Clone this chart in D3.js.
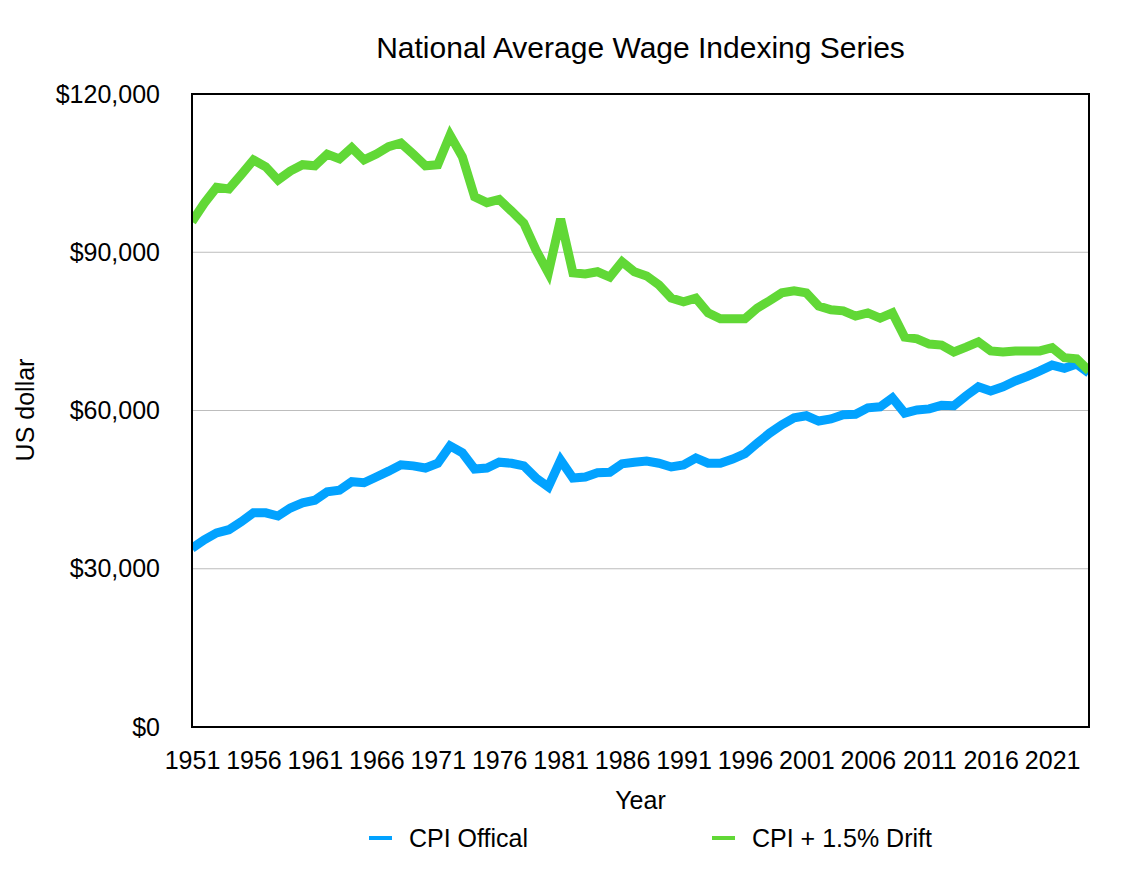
<!DOCTYPE html>
<html>
<head>
<meta charset="utf-8">
<script src="https://cdn.jsdelivr.net/npm/d3@7"></script>
<style>
  body { margin: 0; background: #fff; }
  text { font-family: "Liberation Sans", Arial, Helvetica, sans-serif; fill: #000; }
</style>
</head>
<body>
<svg id="chart" width="1130" height="888"></svg>
<script>
const years = d3.range(1951, 2025);

const cpiOfficial = [
  33900, 35500, 36800, 37400, 38900, 40600, 40600, 40000, 41500, 42500,
  43000, 44600, 44900, 46500, 46300, 47400, 48500, 49700, 49500, 49100,
  50000, 53300, 52000, 48900, 49100, 50200, 50000, 49500, 47200, 45500,
  50600, 47200, 47400, 48200, 48300, 49900, 50200, 50400, 50000, 49300,
  49700, 51000, 50000, 50000, 50800, 51800, 53800, 55700, 57300, 58600,
  59000, 58000, 58400, 59200, 59300, 60500, 60700, 62400, 59500, 60100,
  60300, 61000, 60900, 62800, 64500, 63700, 64500, 65600, 66500, 67500,
  68600, 68000, 68800, 67100
];

const cpiDrift = [
  95800, 99300, 102300, 102000, 104700, 107500, 106200, 103700, 105400, 106600,
  106400, 108600, 107700, 109800, 107500, 108600, 110000, 110700, 108600, 106400,
  106600, 112200, 108100, 100500, 99400, 100000, 97800, 95500, 90400, 86100,
  96300, 86100, 85900, 86300, 85300, 88200, 86300, 85500, 83800, 81300,
  80600, 81300, 78500, 77400, 77400, 77400, 79400, 80800, 82300, 82700,
  82300, 79800, 79100, 78900, 77900, 78500, 77500, 78500, 73900, 73600,
  72600, 72400, 71100, 72000, 73000, 71300, 71100, 71300, 71300, 71300,
  71900, 70000, 69800, 67500
];

const yTicks = [0, 30000, 60000, 90000, 120000];
const xTicks = d3.range(1951, 2025, 5);

const seriesNames = ["CPI Offical", "CPI + 1.5% Drift"];
const seriesColors = ["#02a2ff", "#61d836"];

const svg = d3.select("#chart");
const margin = { top: 94, right: 41, bottom: 161, left: 192 };
const width = 1130, height = 888;
const innerRight = width - margin.right;
const innerBottom = height - margin.bottom;

const x = d3.scaleLinear().domain([1951, 2024]).range([margin.left, innerRight]);
const y = d3.scaleLinear().domain([0, 120000]).range([innerBottom, margin.top]);

// gridlines
svg.append("g")
  .selectAll("line")
  .data(yTicks.slice(1, -1))
  .join("line")
  .attr("x1", margin.left)
  .attr("x2", innerRight)
  .attr("y1", d => y(d))
  .attr("y2", d => y(d))
  .attr("stroke", "#bdbdbd")
  .attr("stroke-width", 1);

svg.append("clipPath").attr("id", "plot-clip")
  .append("rect")
  .attr("x", margin.left)
  .attr("y", margin.top - 10)
  .attr("width", innerRight - margin.left)
  .attr("height", innerBottom - margin.top + 10);

const line = d3.line()
  .x((d, i) => x(years[i]))
  .y(d => y(d));

svg.append("g")
  .attr("clip-path", "url(#plot-clip)")
  .selectAll("path")
  .data([cpiOfficial, cpiDrift])
  .join("path")
  .attr("d", d => line(d))
  .attr("fill", "none")
  .attr("stroke", (d, i) => seriesColors[i])
  .attr("stroke-width", 9)
  .attr("stroke-linejoin", "miter");

// frame
svg.append("rect")
  .attr("x", margin.left)
  .attr("y", margin.top)
  .attr("width", innerRight - margin.left)
  .attr("height", innerBottom - margin.top)
  .attr("fill", "none")
  .attr("stroke", "#000")
  .attr("stroke-width", 2);

// y axis
const fmt = d3.format("$,");
svg.append("g")
  .attr("transform", `translate(${margin.left},0)`)
  .call(d3.axisLeft(y).tickValues(yTicks).tickSize(0).tickPadding(32).tickFormat(fmt))
  .call(g => g.select(".domain").remove())
  .call(g => g.selectAll("text").attr("font-size", 25).attr("fill", "#000"));

// x axis
svg.append("g")
  .attr("transform", `translate(0,${innerBottom})`)
  .call(d3.axisBottom(x).tickValues(xTicks).tickSize(0).tickPadding(24).tickFormat(d3.format("d")))
  .call(g => g.select(".domain").remove())
  .call(g => g.selectAll("text").attr("font-size", 25).attr("fill", "#000"));

// title
svg.append("text")
  .attr("x", (margin.left + innerRight) / 2)
  .attr("y", 58)
  .attr("text-anchor", "middle")
  .attr("font-size", 30)
  .text("National Average Wage Indexing Series");

// axis labels
svg.append("text")
  .attr("x", (margin.left + innerRight) / 2)
  .attr("y", 809)
  .attr("text-anchor", "middle")
  .attr("font-size", 25)
  .text("Year");

svg.append("text")
  .attr("transform", `translate(34,410) rotate(-90)`)
  .attr("text-anchor", "middle")
  .attr("font-size", 25)
  .text("US dollar");

// legend
const legendX = [369, 712];
const legend = svg.append("g")
  .selectAll("g")
  .data(seriesNames)
  .join("g")
  .attr("transform", (d, i) => `translate(${legendX[i]},838)`);

legend.append("line")
  .attr("x1", 0).attr("x2", 23)
  .attr("stroke", (d, i) => seriesColors[i])
  .attr("stroke-width", 4);

legend.append("text")
  .attr("x", 40)
  .attr("dy", "0.35em")
  .attr("font-size", 25)
  .text(d => d);
</script>
</body>
</html>
